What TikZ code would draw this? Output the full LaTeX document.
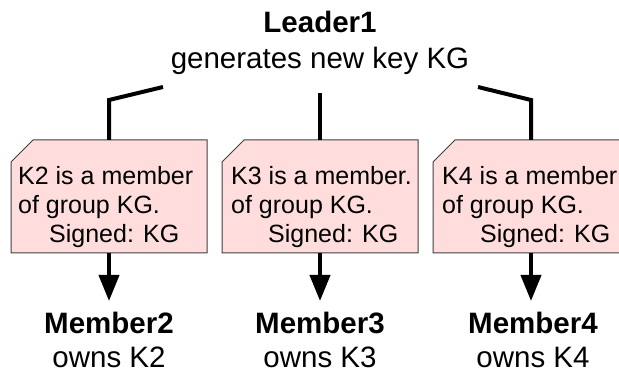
\documentclass[tikz,border=0pt]{standalone}
\usepackage{fontspec}
\setmainfont{Liberation Sans}
\usetikzlibrary{arrows.meta}
\definecolor{notefill}{RGB}{255,221,221}
\definecolor{noteline}{RGB}{64,64,64}
\begin{document}
\begin{tikzpicture}[x=1pt,y=-1pt,
 head/.style={font=\fontsize{29.5}{34}\selectfont\bfseries, inner sep=0, anchor=base},
 sub/.style={font=\fontsize{29.5}{34}\selectfont, inner sep=0, anchor=base},
 txt/.style={font=\fontsize{25}{29}\selectfont, inner sep=0, anchor=base west},
 notebox/.style={minimum width=196pt, minimum height=113pt, inner sep=0, outer sep=0, anchor=north west},
 noteshape/.style={fill=notefill, draw=noteline, line width=1pt},
 conn/.style={line width=4pt},
 arr/.style={line width=4pt, -{Triangle[width=20pt,length=26pt]}}]
\useasboundingbox (0,0) rectangle (619,371);
\clip (0,0) rectangle (619,371);
\fill[white] (0,0) rectangle (619,371);

% leader
\node[head] (lead) at (320,33) {Leader1};
\node[sub] (gen) at (320,69) {generates new key KG};

% note boxes
\foreach \n/\x in {b1/11,b2/222,b3/433}{
  \node[notebox] (\n) at (\x,140) {};
  \draw[noteshape] ([xshift=22pt]\n.north west) -- (\n.north east) -- (\n.south east)
     -- (\n.south west) -- ([yshift=-22pt]\n.north west) -- cycle;
}

\node[txt] (t1a) at (18,185) {K2 is a member};
\node[txt] (t1b) at (18,214) {of group KG.};
\node[txt] (t1c) at (49,243) {Signed: KG};
\node[txt] (t2a) at (231,185) {K3 is a member.};
\node[txt] (t2b) at (231,214) {of group KG.};
\node[txt] (t2c) at (268,243) {Signed: KG};
\node[txt] (t3a) at (442,185) {K4 is a member};
\node[txt] (t3b) at (442,214) {of group KG.};
\node[txt] (t3c) at (480,243) {Signed: KG};

% connectors from leader
\coordinate (l1) at (163,87);
\coordinate (k1) at (109,100);
\coordinate (l2) at (320,93);
\coordinate (l3) at (478,87);
\coordinate (k3) at (531,100);
\draw[conn] (l1) -- (k1) -- (b1.north);
\draw[conn] (l2) -- (b2.north);
\draw[conn] (l3) -- (k3) -- (b3.north);

% members
\node[head] (m2) at (109,334) {Member2};
\node[sub] (o2) at (109,368) {owns K2};
\node[head] (m3) at (320,334) {Member3};
\node[sub] (o3) at (320,368) {owns K3};
\node[head] (m4) at (533,334) {Member4};
\node[sub] (o4) at (533,368) {owns K4};

\coordinate (a1) at (109,301);
\coordinate (a2) at (320,301);
\coordinate (a3) at (531,301);
\draw[arr] (b1.south) -- (a1);
\draw[arr] (b2.south) -- (a2);
\draw[arr] (b3.south) -- (a3);
\end{tikzpicture}
\end{document}
